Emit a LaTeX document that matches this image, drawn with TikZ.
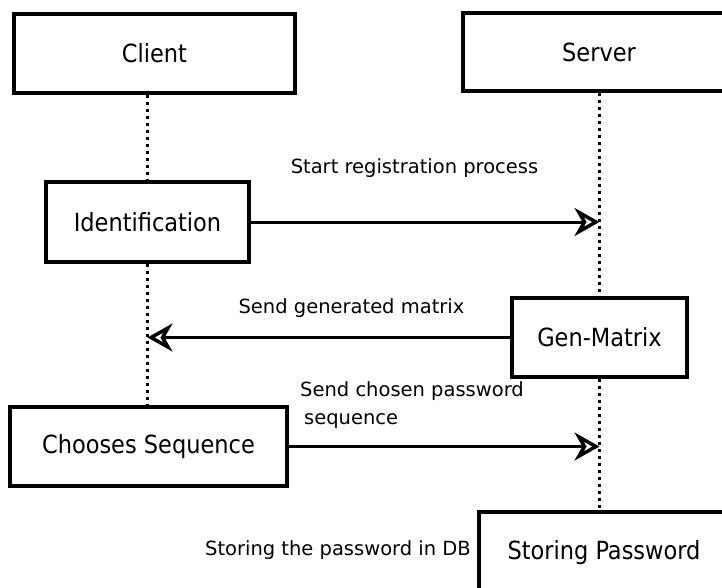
\documentclass[tikz,border=0pt]{standalone}
\usepackage{fontspec}
\setmainfont{DejaVu Sans}
\newfontfamily\boxfont{DejaVu Sans Condensed}
\usetikzlibrary{arrows.meta}
\begin{document}
\begin{tikzpicture}[x=1pt, y=-1pt,
  box/.style={draw, line width=3.2pt, inner sep=0pt,
    font={\boxfont\fontsize{25}{30}\selectfont}},
  lifeline/.style={line width=3pt, dash pattern=on 3pt off 4pt},
  msg/.style={line width=3pt,
    -{Stealth[open, length=25pt, width=28pt, inset=8pt, line width=3.5pt]}},
  lbl/.style={inner sep=0pt, font={\fontsize{19.5}{28}\selectfont}}]
\useasboundingbox (0,0) rectangle (722,587);
\clip (0,0) rectangle (722,587);

% participants and activities
\node[box, minimum width=281pt, minimum height=79pt] (client) at (154.5,53.5) {Client};
\node[box, minimum width=272pt, minimum height=78pt] (server) at (599,52) {Server};
\node[box, minimum width=203pt, minimum height=80pt] (ident) at (147.5,222) {Identification};
\node[box, minimum width=175pt, minimum height=79pt] (genm) at (599.5,337.5) {Gen-Matrix};
\node[box, minimum width=277pt, minimum height=79pt] (choose) at (148.5,446.5) {Chooses Sequence};
\node[box, minimum width=250pt, minimum height=82pt] (store) at (604,553) {Storing Password};

% lifelines
\draw[lifeline] (ident.north |- client.south) -- (ident.north);
\draw[lifeline] (ident.south) -- (ident.south |- choose.north);
\draw[lifeline] (genm.north |- server.south) -- (genm.north);
\draw[lifeline] (genm.south) -- (genm.south |- store.north);

% messages
\draw[msg] (ident.east) -- (ident.east -| genm.north);
\draw[msg] (genm.west) -- (genm.west -| ident.south);
\draw[msg] (choose.east) -- (choose.east -| genm.south);

% message labels
\node[lbl] (l1) at (414.5,168) {Start registration process};
\node[lbl] (l2) at (351.5,308) {Send generated matrix};
\node[lbl, align=left, anchor=north west] (l3) at (300,381) {Send chosen password\\\hspace{4pt}sequence};
\node[lbl, anchor=east] (l4) at (471,550) {Storing the password in DB};
\end{tikzpicture}
\end{document}
